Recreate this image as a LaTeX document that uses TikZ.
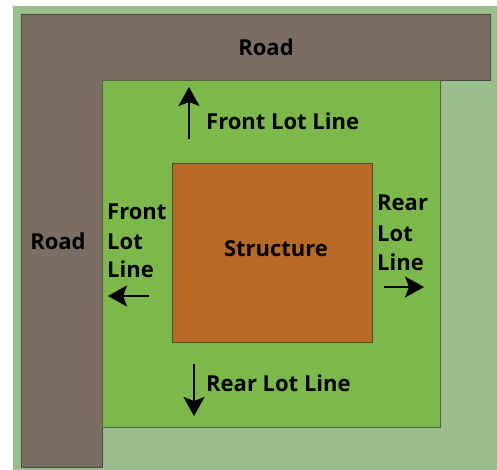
\documentclass[tikz,border=0pt]{standalone}
\usepackage{fontspec}
\setmainfont{Open Sans}
\usetikzlibrary{arrows.meta}
\definecolor{bggreen}{HTML}{9BBE8E}
\definecolor{roadc}{HTML}{7A6E64}
\definecolor{lotc}{HTML}{7DB84A}
\definecolor{structc}{HTML}{B86A24}
\definecolor{edgec}{HTML}{4A4A40}
\tikzset{
  lbl/.style={font=\bfseries\fontsize{22}{29}\selectfont, text=black, inner sep=0pt},
  dirarrow/.style={line width=2pt, -{Stealth[length=19pt,width=21pt,inset=4pt]}},
}
\begin{document}
\begin{tikzpicture}[x=1pt,y=-1pt]
\useasboundingbox (0,0) rectangle (497,470);
\fill[white] (0,0) rectangle (497,470);
\fill[bggreen] (13,6) rectangle (497,470);
% road (L-shape)
\filldraw[fill=roadc, draw=edgec, line width=0.8pt]
  (21,14) -- (490,14) -- (490,80) -- (102,80) -- (102,467) -- (21,467) -- cycle;
% lot
\filldraw[fill=lotc, draw=edgec!80!lotc, line width=0.8pt] (102,80) rectangle (440,427);
% structure
\filldraw[fill=structc, draw=edgec, line width=0.8pt] (172,163) rectangle (372,342);
\node[lbl, anchor=base] (structure) at (276,256) {Structure};
\node[lbl, anchor=base] (roadtop) at (266,56) {Road};
\node[lbl, anchor=base] (roadleft) at (58,249) {Road};
\node[lbl, anchor=base west] (frontlot) at (206,130) {Front Lot Line};
\node[lbl, anchor=base west] (rearlot) at (206,391) {Rear Lot Line};
\node[lbl, anchor=base west] (frontA) at (107,219) {Front};
\node[lbl, anchor=base west] (frontB) at (107,249) {Lot};
\node[lbl, anchor=base west] (frontC) at (107,277) {Line};
\node[lbl, anchor=base west] (rearA) at (377,211) {Rear};
\node[lbl, anchor=base west] (rearB) at (377,241) {Lot};
\node[lbl, anchor=base west] (rearC) at (377,270) {Line};
% arrows
\coordinate (fa1) at (189,139); \coordinate (fa2) at (189,87);
\coordinate (ra1) at (194,364); \coordinate (ra2) at (194,416);
\coordinate (la1) at (149,296); \coordinate (la2) at (108,296);
\coordinate (rr1) at (384,287); \coordinate (rr2) at (424,287);
\draw[dirarrow] (fa1) -- (fa2);
\draw[dirarrow] (ra1) -- (ra2);
\draw[dirarrow] (la1) -- (la2);
\draw[dirarrow] (rr1) -- (rr2);
\end{tikzpicture}
\end{document}
